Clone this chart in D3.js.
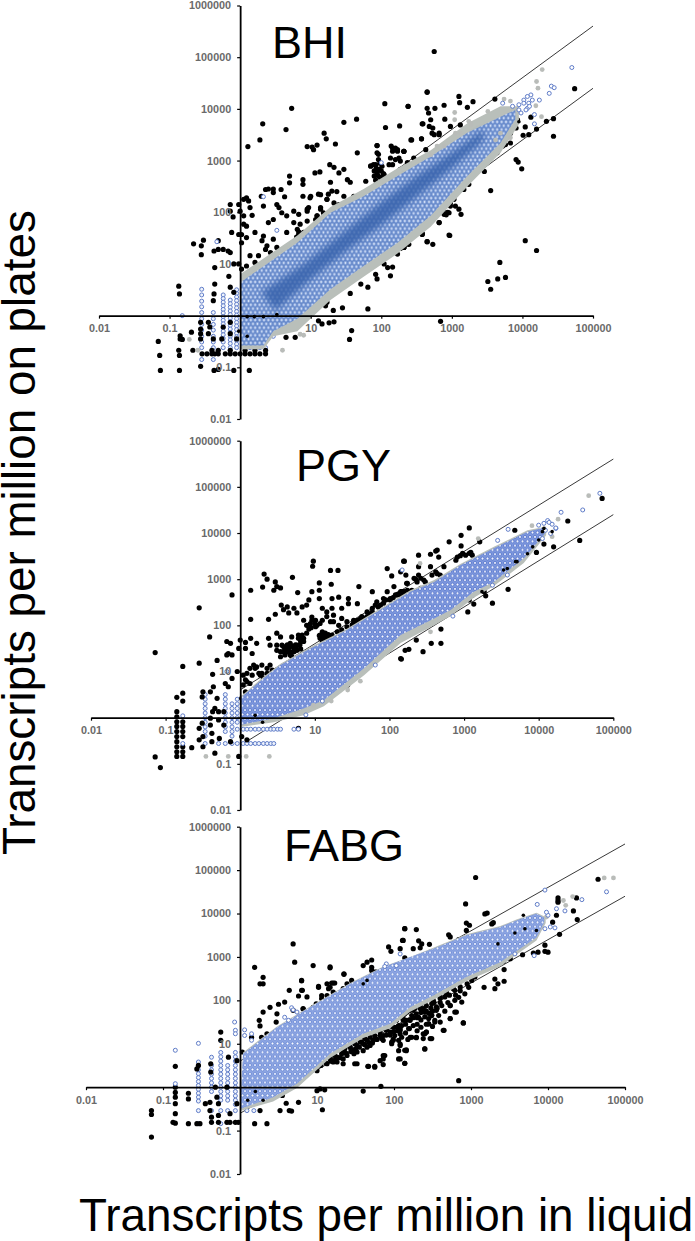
<!DOCTYPE html>
<html>
<head>
<meta charset="utf-8">
<script src="https://cdn.jsdelivr.net/npm/d3@7"></script>
<style>
html, body { margin: 0; padding: 0; background: #fff; }
svg { display: block; }
.tick-label { font-family: "Liberation Sans", Arial, sans-serif; font-size: 10.8px; font-weight: bold; fill: #6a6a6a; }
.big { font-family: "Liberation Sans", Arial, sans-serif; fill: #000; }
</style>
</head>
<body>
<svg id="graph" width="695" height="1241"></svg>
<script>
var xTicks = [0.01, 0.1, 1, 10, 100, 1000, 10000, 100000];
var yTicks = [0.01, 0.1, 1, 10, 100, 1000, 10000, 100000, 1000000];
var hiddenTick = 1;
var foldLines = [[[1, 4], [100000, 400000]], [[1, 0.25], [100000, 25000]]];

// edges of the dense clouds. too many circles to read one by one, so these are outlines
var bhiGreyTop = [[0,.8],[.81,1.55],[1.28,2.1],[1.75,2.45],[2.23,2.85],[2.7,3.2],[3.22,3.72],[3.69,4.05],[3.95,4.05]];
var bhiGreyBottom = [[0,-.65],[.33,-.65],[.47,-.4],[.81,-.3],[1.28,.3],[1.75,.75],[2.23,1.2],[2.7,1.72],[3.22,2.5],[3.69,3.15],[3.95,3.7]];
var bhiBandTop = [[0,.64],[.81,1.41],[1.28,1.99],[1.75,2.31],[2.23,2.7],[2.7,3.08],[3.22,3.54],[3.69,3.85],[3.9,3.98]];
var bhiBandBottom = [[0,-.58],[.33,-.58],[.47,-.3],[.81,-.06],[1.28,.51],[1.75,.96],[2.23,1.41],[2.7,1.93],[3.22,2.7],[3.69,3.34],[3.9,3.8]];
var bhiCoreTop = [[.3,.45],[.9,1],[1.5,1.65],[2,2.2],[2.5,2.7],[3,3.15],[3.45,3.6]];
var bhiCoreBottom = [[.5,.1],[1,.7],[1.5,1.25],[2,1.75],[2.5,2.3],[3,2.85],[3.45,3.4]];

var pgyGreyTop = [[0,.45],[.31,.88],[.54,1.17],[.94,1.53],[1.39,1.89],[1.83,2.32],[2.28,2.76],[2.6,2.98],[2.95,3.33],[3.4,3.7],[3.85,4.06],[4.1,4.14]];
var pgyGreyBottom = [[0,-.2],[.45,-.1],[.85,.05],[1.12,.25],[1.66,.92],[2.15,1.62],[2.6,2],[2.82,2.2],[3.13,2.6],[3.4,2.85],[3.8,3.35],[4.1,3.95]];
var pgyBandTop = [[0,.42],[.31,.85],[.54,1.14],[.94,1.5],[1.39,1.86],[1.83,2.29],[2.28,2.73],[2.6,2.94],[2.95,3.3],[3.4,3.67],[3.85,4.03],[4.08,4.12]];
var pgyBandBottom = [[0,-.16],[.45,-.01],[.85,.2],[1.12,.38],[1.66,1.07],[2.15,1.79],[2.6,2.15],[2.82,2.33],[3.13,2.73],[3.4,2.94],[3.8,3.45],[4.08,3.98]];

var fabgGreyTop = [[.04,.8],[.48,1.4],[.91,1.86],[1.43,2.4],[1.86,2.78],[2.21,3],[2.51,3.21],[2.94,3.52],[3.38,3.71],[3.59,3.86],[3.85,4.02],[3.97,3.92]];
var fabgGreyBottom = [[0,-.55],[.43,-.33],[.74,-.02],[1.17,.67],[1.6,1.13],[1.95,1.36],[2.21,1.74],[2.51,2.01],[2.94,2.44],[3.38,2.78],[3.57,3.03],[3.85,3.38],[3.97,3.78]];
var fabgBandTop = [[.04,.77],[.48,1.38],[.91,1.84],[1.43,2.38],[1.86,2.76],[2.21,3],[2.51,3.19],[2.94,3.5],[3.38,3.69],[3.59,3.84],[3.85,4],[3.95,3.9]];
var fabgBandBottom = [[0,-.5],[.43,-.23],[.74,.08],[1.17,.77],[1.6,1.23],[1.95,1.46],[2.21,1.84],[2.51,2.11],[2.94,2.54],[3.38,2.88],[3.57,3.11],[3.85,3.45],[3.95,3.8]];

var bhiBlack = [[.73,4.01],[.32,3.71],[.65,3.6],[.28,3.4],[.11,3.27],[1.19,3.53],[1.22,3.42],[1.35,3.32],[1.47,3.74],[1.65,3.8],[2.05,4.1],[2.06,3.64],[2.38,4.05],[2.26,3.67],[2.65,4.33],[2.65,4.01],[2.59,3.71],[2.57,3.42],[2.43,3.4],
[.95,3.27],[1.02,3.26],[1.04,3.21],[1.09,3.3],[1.66,3.15],[1.94,3.29],[1.94,3.15],[2.14,3.28],[2.2,3.24],[2.23,3.18],[2.16,3.18],[2.32,3.18],[1.27,2.92],[1.33,2.87],[1.06,2.76],[1.13,2.78],[1.4,2.76],[1.47,2.83],[.7,2.7],[.7,2.57],[.89,2.63],[.89,2.54],[1.28,2.58],[1.52,2.63],[1.56,2.58],[1.78,2.6],[1.85,2.9],[1.92,2.92],[1.97,2.83],[1.94,2.73],[1.99,2.67],[1.9,2.7],[2.04,2.73],
[.36,2.44],[.4,2.45],[.47,2.45],[.47,2.38],[.58,2.44],[.3,2.31],[.63,2.3],[.89,2.31],[1,2.31],[1.14,2.34],[1.3,2.41],[1.37,2.4],[1.47,2.31],[1.23,2.25],[1.33,2.18],[1.4,2.15],[1.61,2.31],[1.66,2.25],[1.75,2.38],[.09,2.28],[.05,2.25],[.12,2.22],[-.02,2.15],[-.14,2.15],[-.14,2.02],[0,2.02],[.14,2.09],[-.1,1.91],[.05,1.93],[.17,1.94],[.33,2.12],[.52,2.15],[.55,2.09],[.59,1.99],[.66,1.93],[.76,2.02],[.83,1.96],[.95,2.06],[1.14,2.09],[1.09,1.93],[1.18,1.99],[1.33,1.96],[1.37,1.93],[1.42,1.89],[1.35,1.86],[1.4,1.83],[1.45,1.96],
[.05,1.77],[.09,1.73],[.47,1.86],[.4,1.8],[.76,1.8],[.81,1.67],[.95,1.83],[1.09,1.73],[1.14,1.67],[.66,1.61],[.83,1.57],[.88,1.51],[.81,1.45],[.9,1.41],[.85,1.35],[.76,1.32],[-.12,1.61],[-.02,1.57],[.02,1.57],[.09,1.51],[.02,1.41],[.21,1.61],[.33,1.54],[.31,1.45],[.38,1.35],[.47,1.48],[.52,1.32],[.36,1.28],[.43,1.22],[.47,1.16],[.4,1.09],
[-.66,1.39],[-.55,1.35],[-.52,1.46],[-.55,1.18],[-.31,1.45],[-.37,1.25],[-.31,1.28],[-.24,1.28],[-.17,1.25],[-.36,.93],[-.14,1.22],[-.09,1],[-.02,1],[.02,.9],[.09,.96],[.26,1.16],[.21,1.03],[.14,1.16],[-.16,.76],[-.14,.55],[-.36,.61],[-.87,.57],[-.86,.42],[-.37,.42],[-.38,.29],[-.09,.45],
[1.23,.26],[1.21,.19],[1.32,.1],[1.45,.15],[1.81,.13],[1.11,-.1],[1.16,-.16],[1.26,-.14],[1.33,-.12],[.76,.03],[.66,-.26],[.76,-.13],[.86,-.1],[.78,-.42],[.65,-.42],[1.58,-.29],[1.55,-.46],[1.42,.55],[1.47,.58],[1.71,.61],[1.81,.55],[1.56,.43],[1.92,.8],[1.94,.71],[2.13,.77],[1.87,1.16],[1.97,1.12],[1.9,1.06],[2.04,1],[2.09,.93],[2.16,.94],[2.23,1.19],[2.09,1.16],[2.18,1.54],[2.23,1.48],[2.37,1.51],[2.32,1.32],[2.39,1.38],[2.58,1.57],[2.65,1.43],[2.46,1.83],[2.54,1.8],[2.61,1.89],[2.49,1.73],[2.68,1.93],[2.63,1.77],
[-.54,-.74],[-.47,-.74],[-.4,-.74],[-.36,-.74],[-.31,-.74],[-.21,-.74],[-.14,-.74],[-.07,-.74],[0,-.74],[.07,-.74],[.14,-.74],[.21,-.74],[.28,-.74],[.36,-.74],[-.4,-.67],[-.31,-.67],[-.14,-.67],[.07,-.67],[.21,-.67],[.36,-.67],[-.87,-.67],[-.86,-.77],[-1.14,-.77],[-1.16,-.5],[-1.13,-1.06],[-.86,-1.06],[-.56,-.98],[-.37,-1.06],[-.31,-1.04],[-.09,-1.06],[.13,-1.06],[-.67,-.67],[-.69,-.32],[-.85,-.39],[-.85,-.45],[-.82,-.46],[-.56,-.13],[-.56,-.26],[-.56,-.35],[-.56,-.45],[-.45,-.13],[-.43,-.22],[-.45,-.35],[-.38,-.45],[-.26,-.45],[-.14,-.35],[-.14,-.13],[-.24,-.22],[-.05,-.45],[.05,-.48],[.14,-.51],[.24,-.45],
[2.75,5.11],[2.65,4.32],[3.1,4.24],[3.11,4.12],[3.3,4.14],[2.38,4.05],[2.67,3.92],[2.76,4.01],[2.89,4.07],[3.22,4.03],[2.7,3.79],[2.9,3.8],[2.58,3.71],[2.68,3.66],[2.73,3.63],[2.82,3.53],[2.75,3.5],[2.98,3.66],[3.12,3.69],[2.42,3.4],[2.57,3.42],[2.32,3.18],[3.61,4.19],[4.34,3.76],[4.44,3.81],[4.74,4.39],[4.44,3.47],[4.2,3.61],[4.09,3.5],[4.01,3.49],[4.04,3.65],[4.12,3.84],[3.93,3.79],[3.91,3.63],[3.83,3.53],[3.69,3.4],[3.76,3.31],[3.72,3.28],[3.83,3.34],[3.64,3.15],[3.57,3.11],[3.53,3.11],[3.48,3.02],[3.46,2.92],[3.5,3.08],[3.46,2.79],[3.41,2.89],[3.91,3.02],[3.94,2.97],[3.99,2.84],[3.55,2.42],
[3.24,2.54],[3.17,2.44],[3.07,2.41],[2.96,2.31],[2.98,2.18],[3.05,2.12],[3.1,2.06],[3.13,1.96],[2.96,1.99],[2.86,2.12],[2.82,1.8],[2.89,1.96],[2.97,1.55],[2.69,1.93],[2.63,1.83],[2.51,1.86],[2.46,1.77],[2.58,1.58],[2.65,1.43],[2.73,1.38],[2.38,1.39],[2.32,1.32],[2.27,1.3],[4.04,1.45],[4.2,1.26],[3.68,1.03],[3.51,.66],[3.65,.71],[3.76,.74],[3.55,.51],[2.84,-.11],
// clumps along the upper and lower edge of the cloud
[1.33,1.93],[1.37,1.87],[1.42,2],[1.35,1.8],[1.44,1.87],[1.3,2.03],[1.4,2.09],[1.09,1.93],[1.14,2.06],[1.23,2.25],[1.25,2.35],[1.11,2.35],[.99,2.28],[.97,2.09],[.95,2.02],[1.56,2.06],[1.63,2.15],[1.52,2.15],[1.75,2.35],[1.82,2.41],[1.87,2.47],[1.94,2.76],[1.99,2.67],[1.97,2.57],[2.01,2.89],[1.89,2.92],[1.85,2.89],[1.96,3.02],[1.96,3.12],[1.94,3.29],[2.13,3.05],[2.2,3.02],[2.25,3.05],[2.27,2.99],[2.16,3.24],[2.23,3.21],[2.32,3.18],[2.11,2.92],[2.16,2.92],[2.27,2.83],[2.37,2.96],[2.46,3.05],[2.63,3.21],[2.72,3.53],[2.82,3.5],[.85,1.77],[.9,1.61],[.99,1.58],[1.09,1.74],[1.14,1.67],[.92,1.41],[1.07,1.86],[2.49,1.9],[2.53,1.8],[2.46,1.74],[2.63,1.74],[2.7,1.93],[2.84,2.03],[2.94,2],[2.98,2.12],[2.94,2.28],[3.03,2.25],[2.82,1.8],[2.96,1.56],[2.58,1.59],[2.27,1.41],[2.34,1.38],[2.39,1.51],[2.32,1.32],
[1.32,1.98],[1.38,1.95],[1.33,1.85],[1.39,1.8],[1.43,1.94],[1.36,2.05],[1.9,2.8],[1.93,2.85],[1.96,2.7],[1.92,2.62],[2,2.8],[2.03,2.75],[1.98,2.95],[2.5,1.82],[2.55,1.86],[2.45,1.85],[2.52,1.72],[2.58,1.8],[2.78,1.98],[2.88,2.05],[2.92,1.95],[2.9,2.15],[.83,1.62],[.86,1.48],[.92,1.55],[.88,1.38],[.8,1.52],[.93,1.47],[.85,1.42],[.78,1.38]];
var bhiGrey = [[4.28,4.76],[4.2,4.53],[4.22,4.4],[4.27,3.85],[4.19,4.06],[3.74,4.19],[3.83,4.15],[3.51,3.95],[3.04,3.93],[3.04,3.79],[3.24,3.76],[3.27,3.69],[-.72,-.46],[-.6,-.67],[.6,-.67],[.85,-.36],[.9,-.38],[3.69,3.53],[3.83,3.44],[3.62,3.4],[3.27,3.72],[3.05,3.53],[2.89,3.28],[2.79,3.28],[2.7,3.11],[3.12,3.53]];
var bhiOpen = [[4.7,4.8],[4.41,4.44],[4.45,4.41],[4.38,4.3],[4.24,4.17],[4.12,4.27],[3.72,4.11],[4.17,3.89],[4.17,3.71],[4.02,4.17],[4.09,4.11],[3.95,4.08],[3.86,4.05],[4.07,4.01],[2,2.96],[.33,2.3],[-.33,1.43],[.52,1.65],[3.95,3.98],[4.02,4.11],[3.98,3.92],[4.05,3.98],[4.1,4.05],[4.07,4.24],[4.14,4.17]];
var bhiOver = [[3.95,3.75],[.1,-.02],[.2,-.02],[.33,-.02],[.52,.02],[-.02,-.3],[.1,-.4]];
var bhiColumns = [[-.82,[0,-.46]],[-.545,[.51,.4,.28,.17,.06,-.06,-.17,-.28,-.4,-.51,-.62,-.85]],[-.38,[.06,-.06,-.17,-.28,-.4,-.51,-.62,-.85]],[-.24,[.4,.33,.26,.19,.12,.05,-.02,-.09,-.16,-.23,-.3,-.37,-.44,-.51,-.62]],[-.14,[.3,.23,.16,.09,.02,-.05,-.12,-.19,-.26,-.33,-.4,-.47,-.54,-.62]],[-.05,[.5,.43,.36,.29,.22,.15,.08,.01,-.06,-.13,-.2,-.27,-.34,-.41,-.48,-.55,-.62]],[.07,[-.62]],[.14,[-.62]],[.28,[-.62]],[.36,[-.62,-.28]],[.47,[-.4,-.28]]];

var pgyBlack = [[-1.14,1.41],[-1.07,-1.08],[-1.14,-.85],[-.55,2.38],[-.11,2.66],[-.41,1.75],[-.77,1.11],[-.55,1.18],[-.31,1.24],[-.37,.94],[-.85,.44],[-.77,.53],[-.77,.36],[-.5,.56],[-.51,.45],[-.36,.67],[-.4,.56],[-.31,.42],[-.2,.74],[-.16,.67],[-.11,.85],[-.16,1.39],[-.13,1.61],[-.18,1.65],[-.18,1.36],[-.11,1.36],[0,1.68],[-.02,1.5],[.07,1.63],[.14,1.72],[.22,1.61],[.07,1.5],[.16,1.39],
[.14,2.13],[.38,2.13],[.14,2.76],[.3,2.83],[.32,3.11],[.36,3],[.47,2.94],[.49,2.84],[.45,2.76],[.54,2.81],[.7,3.04],[.98,3.39],[.97,3.28],[1.21,3.19],[1.31,3.19],[1.06,2.92],[1.22,2.89],[.96,2.73],[1.06,2.76],[.77,2.71],[1.59,2.84],[1.97,3.23],[2.03,3.07],[2.2,3.39],[2.23,2.91],[2.06,2.84],[1.97,2.73],[1.77,2.73],
[.55,2.44],[.58,2.34],[.65,2.27],[.63,2.4],[.72,2.37],[.76,2.27],[.47,2.24],[.83,2.4],[.92,2.55],[.89,2.44],[1.06,2.58],[1.23,2.58],[1.32,2.61],[1.45,2.58],[1.36,2.37],[1.23,2.37],[1.45,2.47],[1.57,2.47],[1.1,2.37],[1.16,2.29],[1.25,2.22],[1.36,2.15],[.85,2.11],[.96,2.18],[1.01,2.11],[.94,2.04],[1.03,2],[1.1,2.11],[1.21,2.08],[1.32,2],[1.43,2.08],[1.52,2.11],[1.61,2.14],[1.7,2.29],[1.77,2.37],[1.83,2.51],[1.92,2.58],[2.01,2.55],[2.1,2.66],[2.19,2.73],
[.49,1.83],[.54,1.75],[.38,1.72],[.4,1.57],[.49,1.57],[.56,1.57],[.69,1.75],[.83,1.79],[.78,1.72],[.67,1.61],[.76,1.57],[.85,1.65],[.63,1.49],[.72,1.43],[.81,1.49],[.58,1.43],[.67,1.36],[.54,1.32],[1.07,1.79],[1.14,1.83],[1.21,1.72],[1.1,1.65],[1.16,1.61],[1.25,1.69],[.18,1.14],[.13,1.07],[.22,1.1],[.09,.96],[-.04,1],[.29,.96],[.36,.96],[.43,1.03],[.31,.85],[.07,.82],[.13,.74],[.04,.71],[.02,.42],[.13,.42],[.19,.56],[.27,.92],
[-.85,.13],[-.85,.02],[-.85,-.09],[-.85,-.19],[-.85,-.3],[-.85,-.41],[-.85,-.52],[-.85,-.63],[-.85,-.74],[-.85,-.84],[-.77,-.09],[-.77,-.19],[-.77,-.3],[-.77,-.41],[-.77,-.63],[-.77,-.74],[-.77,-.84],[-.65,-.65],[-.55,-.23],[-.51,-.12],[-.55,-.48],[-.5,-.63],[-.5,-.41],[-.4,-.01],[-.4,-.16],[-.37,.13],[-.34,.2],[-.38,-.34],[-.29,.13],[-.29,-.05],[-.22,.13],[-.22,-.16],[-.28,-.45],[-.38,-.52],[-.34,-.77],[-.13,-.52],[-.02,-.84],[.02,-.41],[.09,-.48],[1.44,.71],[2.15,1.28],[.78,-.23],
[3.07,4.11],[2.96,3.95],[2.8,3.81],[2.96,3.72],[3.21,3.81],[3.68,4.06],[2.62,3.61],[2.55,3.54],[2.64,3.63],[2.91,3.48],[2.98,3.56],[3.09,3.58],[3.11,3.52],[2.39,3.52],[2.66,3.48],[2.19,3.39],[2.39,3.27],[2.55,3.27],[2.73,3.27],[2.62,3.16],[2.89,3.41],[2.95,3.51],[2.15,3.16],[2.22,3.09],[2.39,3.09],[2.48,2.94],[2.35,3],[2.57,3.09],[2.71,3],[2.24,2.91],[2.42,2.8],[2.3,2.76],[2.19,2.73],[2.15,2.65],
[4.39,4.26],[4.85,4.75],[4.55,3.84],[4.2,3.7],[4.07,3.76],[3.97,3.58],[3.38,2.48],[3.59,2.78],[3.05,2.29],[3.13,2.46],[3.29,2.64],[2.69,1.92],[2.69,1.61],[2.56,1.61],[2.45,1.43],[2.36,1.68],[2.26,1.48],[2.21,1.46],[2.16,1.27],
// clumps along the upper edge of the cloud
[1.3,1.86],[1.36,1.9],[1.43,1.97],[1.5,2.01],[1.57,2.11],[1.63,2.19],[1.7,2.19],[1.77,2.29],[1.81,2.44],[1.88,2.44],[1.95,2.55],[2.01,2.58],[2.08,2.66],[2.15,2.73],[2.24,2.76],[1.41,1.83],[1.48,1.9],[1.61,2.08],[.58,1.54],[.65,1.43],[.72,1.5],[.76,1.46],[.81,1.65],[.85,1.72],[.89,1.83],[.6,1.36],[.69,1.33],[.54,1.43],[.49,1.46],[.78,1.79],[.63,1.58],[.74,1.58],[1.07,1.72],[1.12,1.72],[1.16,1.75],[1.19,1.65],[1.23,1.79],[1.1,1.86],[1.14,1.68],[.89,2],[.96,2.11],[1.01,1.97],[1.07,2.04],[1.16,2.19],[1.25,2.08],[.04,.92],[.09,.78],[.16,.92],[.2,1.07],[.25,.96],[.36,1.07],[.29,1.14],[.4,1.14],[.18,.6],[.07,.56],[.27,.74],[2.42,3.02],[2.46,2.98],[2.37,2.94],[2.33,3.02],[2.64,3.12],[2.68,3.09],[3.02,3.52],[3.07,3.56],[3.4,3.2],[3.11,2.65],[3.07,2.55],[3.27,2.73],[2.17,2.73],[2.19,2.65],
[.6,1.48],[.66,1.52],[.7,1.42],[.75,1.52],[.62,1.42],[.68,1.56],[.8,1.58],[.83,1.72],[1.12,1.78],[1.18,1.8],[1.15,1.72],[1.2,1.78],[1.06,1.78],[1.52,2.05],[1.56,2.05],[1.66,2.15],[1.74,2.25],[1.85,2.4],[1.92,2.48],[2.05,2.6],[2.12,2.68],[.95,1.95],[1,2.03],[.92,1.92]];
var pgyGrey = [[-.46,-.84],[-.16,-.84],[.08,-.84],[.39,-.84],[1.22,.36],[1.61,.79],[1.44,.6],[.98,.27],[4.67,4.81],[4.26,4.3],[3.91,4.16],[3.19,3.88],[4.18,3.92],[2.41,3.34],[2.55,1.86]];
var pgyOpen = [[-.77,.04],[-.77,-.56],[1.81,1.14],[2.17,3.2],[-.18,1],[1.1,.36],[.88,.06],[4.82,4.86],[4.59,4.5],[4.3,4.45],[4.12,4.27],[4.23,4.1],[3.59,4.08],[3.45,3.84],[3.58,3.09],[3.38,2.87],[2.85,2.2],[.72,-.25],[.78,-.25],[4,4.17],[4.07,4.21],[4.14,4.23],[4.18,4.19],[4.23,4.11],[4.09,4.06],[4.16,3.99],[4.05,3.88]];
var pgyOver = [[3.58,3.23],[3.53,3.2],[4.05,4.03],[4.07,4.1],[3.92,3.7],[3.69,3.38],[3.85,3.55],[4,3.85],[3.71,3.38],[3.24,2.73],[4.18,4.03],[.2,.05],[.3,-.1]];
var pgyColumns = [[-.47,[.5,.4,.3,.2,.1,0,-.1,-.2,-.3,-.4,-.56]],[-.29,[-.56]],[-.2,[.5,.4,.3,.2,.1,0,-.1,-.2,-.3,-.56]],[-.11,[.3,.2,.1,0,-.1,-.2,-.3,-.4,-.56]],[-.04,[.4,.3,.2,.1,0,-.1,-.25,-.56]],[.04,[-.25,-.56]],[.09,[-.25,-.56]],[.14,[-.25,-.56]],[.2,[-.25,-.56]],[.25,[-.25,-.56]],[.31,[-.25,-.56]],[.36,[-.25,-.56]],[.41,[-.25,-.56]],[.45,[-.25,-.56]],[.5,[-.25]],[.54,[-.25]]];

var fabgBlack = [[.69,3.3],[.71,2.88],[.19,2.76],[.95,2.8],[1.17,2.75],[.3,2.53],[.26,2.38],[.3,2.38],[.8,2.45],[.64,2.23],[.81,2.23],[.76,2.1],[1.02,2.3],[1.13,2.38],[1.21,2.4],[1.17,2.3],[1.35,2.6],[1.6,2.8],[1.65,2.88],[1.71,2.93],[1.71,2.76],[1.77,2.65],[1.45,2.46],[1.39,2.38],[1.34,2.27],[2.14,3.65],[2.12,3.38],[1.93,3.23],[1.96,3.13],[2.14,2.98],[2.19,2.83],
[1.21,2.19],[1.28,2.15],[1.13,2.11],[1.06,2.04],[.99,1.92],[.95,1.8],[.82,1.8],[.8,1.61],[.69,1.77],[.58,1.96],[.5,1.91],[.39,1.84],[.48,1.69],[.3,1.73],[.25,1.54],[.47,1.5],[.26,1.41],[.28,1.15],[.35,1.23],[.22,.92],[.15,1.15],[-.25,1.27],[-.25,1.08],[-.15,.69],[-.04,.61],[.03,.81],
[-.84,.48],[-.38,.54],[-.38,.35],[-.54,.5],[-.56,.42],[-.84,0],[-.84,-.12],[-.84,-.23],[-.84,-.38],[-.84,-.61],[-.84,-.83],[-.87,-.81],[-.67,-.14],[-.67,-.27],[-.67,-.84],[-.56,-.84],[-.52,-.84],[-1.15,-.54],[-1.15,-.63],[-1.15,-1.15],[-.45,-.38],[-.39,-.35],[-.39,-.54],[-.37,-.69],[-.37,-.81],[-.28,-.81],[-.28,-.65],[-.28,-.38],[-.32,0],[-.3,-.23],[-.17,0],[-.17,-.81],[-.13,-.81],[-.13,-.61],[-.06,-.81],[-.02,-.81],[-.04,-.38],[.04,-.15],[.09,-.38],[.13,-.27],[.22,-.23],[.19,-.84],[.35,-.84],[.26,-.54],
[.52,-.54],[.64,-.54],[.67,-.55],[.76,-.35],[.6,-.37],[.55,-.19],[1,-.08],[1.1,-.06],[1.04,-.04],[1.07,-.52],[1.6,-.09],[1.83,.02],
[.69,.08],[.78,.19],[.82,.23],[.9,.42],[.97,.5],[1.08,.61],[1.17,.69],[1.26,.69],[1.34,.84],[1.43,.92],[1.52,.96],[1.58,1.04],[1.65,1.08],[1.69,.96],[1.48,.77],[1.39,.73],[1.52,.81],[1.6,.84],[1.65,.92],[1.75,1.11],[1.82,1.19],[1.9,1.31],[1.97,1.46],[2.03,1.54],[2.12,1.65],[2.19,1.77],[2.03,1.38],[1.99,1.27],[2.08,1.23],[2.16,1.54],[1.86,.73],[1.82,.61],[1.75,.46],[1.66,.48],[1.49,.54],[1.26,.58],[1.13,.54],[1.21,.61],[1,.38],[1.99,1.11],[2.06,1.08],[2.16,.84],[2.06,.84],[1.97,1.04],[1.86,1.08],
[3.06,4.83],[2.93,4.22],[3.18,3.99],[3.21,4.01],[3.27,3.76],[3.29,3.79],[2.94,3.78],[2.98,3.73],[2.94,3.61],[2.14,3.65],[2.29,3.63],[2.71,3.51],[2.73,3.46],[2.84,3.4],[2.11,3.38],[2.32,3.37],[2.36,3.3],[2.34,3.21],[2.08,3.19],[2.46,3.29],[2.47,3.11],[2.51,3.09],[2.25,3.19],
[4.65,4.79],[4.13,4.3],[4.13,4.36],[4.13,4.26],[4.37,4.36],[4.33,4.06],[4.38,3.86],[4.11,3.96],[4.15,3.52],[4.06,3.8],[3.96,3.27],[3.96,3.13],[4,3.11],[3.87,3.11],[3.81,3.09],[3.67,3.05],[3.57,3.11],[3.51,2.96],[3.42,2.9],[3.43,2.71],[3.43,2.44],[3.31,2.49],[3.35,2.38],[3.31,2.27],[3.17,2.3],
[3.29,2.8],[3.35,2.84],[3.2,2.73],[3.12,2.69],[3.05,2.54],[3.01,2.46],[2.97,2.3],[2.92,2.15],[2.88,1.96],[2.79,1.73],[2.73,1.58],[2.9,1.48],[2.65,1.31],[2.73,1.88],[2.84,2.07],
[2.08,1.77],[2.17,1.73],[2.25,1.77],[2.34,1.81],[2.42,1.88],[2.51,2],[2.6,2.08],[2.68,2.19],[2.77,2.27],[2.55,1.77],[2.49,1.65],[2.4,1.73],[2.32,1.61],[2.21,1.54],[2.12,1.58],[2.19,1.35],[2.08,1.35],[2.53,1.54],[2.45,1.46],[2.4,1.23],[2.42,1.27],[2.38,1.12],[2.47,1.12],[2.21,1.15],[2.29,1.14],[2.4,.88],[2.08,.99],[2.14,.85],[2.08,.65],[2.14,.55],[2.84,.15],
// the dense strip under the cloud
[1,.54],[1.08,.62],[1.17,.65],[1.23,.73],[1.32,.77],[1.36,.88],[1.43,.92],[1.49,1],[1.56,1.04],[1.62,1.12],[1.69,1.15],[1.75,1.19],[1.82,1.27],[1.88,1.35],[1.93,1.42],[1.97,1.5],[2.03,1.54],[1.99,1.38],[2.06,1.42],[2.08,1.61],[2.14,1.69],[2.21,1.77],[2.27,1.81],[2.34,1.88],[2.4,1.96],[2.47,2.04],[2.53,2.11],[2.58,2.19],[2.64,2.27],[2.71,2.31],[2.77,2.38],[2.84,2.46],[2.9,2.54],[1.21,.58],[1.34,.65],[1.47,.85],[1.6,1],[1.73,1.08],[1.86,1.19],[1.95,1.27],[2.08,1.31],[2.01,1.19],[2.12,1.54],[2.23,1.65],[2.29,1.69],[2.38,1.81],[2.49,1.92],[2.6,2.04],[2.68,2.15],[2.79,2.23],[2.86,2.31],[2.55,1.85],[2.49,1.65],[2.45,1.58],[2.53,1.5],[2.73,1.88],[2.79,2],[2.9,1.48],[2.64,1.31],[2.73,1.58],[2.81,1.73],[2.45,1.46],[2.23,1.15],[2.29,1.15],[2.42,1.27],[2.38,1.23],[2.49,1.12],[2.4,.88],[2.16,.86],[1.97,1],[1.99,1.08],[2.08,.96],[2.06,.65],[2.14,.55],[1.88,.73],[1.86,.65],[1.67,.48],[1.75,.48],[1.86,.52],[1.52,.54],[1.34,.54],
[1.05,.5],[1.12,.55],[1.18,.6],[1.25,.66],[1.3,.68],[1.38,.78],[1.44,.82],[1.5,.88],[1.55,.92],[1.62,.98],[1.68,1.02],[1.72,1.02],[1.78,1.1],[1.84,1.12],[1.9,1.2],[1.95,1.2],[2,1.28],[2.05,1.3],[2.1,1.42],[2.15,1.45],[2.2,1.55],[2.25,1.6],[2.3,1.6],[2.35,1.72],[2.42,1.75],[2.48,1.82],[2.52,1.95],[2.6,1.95],[2.66,2.08],[2.72,2.12],[2.8,2.12],[2.86,2.22],[2.95,2.38],[2.1,1.15],[2.15,1.25],[2.2,1.35],[2.25,1.42],[2.3,1.45],[2.35,1.55],[2.4,1.62],[2.45,1.7],[2.5,1.75],[2.56,1.82],[2.62,1.88],[2.35,1.38],[2.3,1.3],[2.42,1.45],[2.5,1.4],[2.58,1.65],[2.66,1.75],[2.6,1.5],[2.7,1.95],[2.18,1.1],
[1.17,2.77],[1.35,2.61],[.8,2.46],[1.02,2.32],[1.19,2.4],[1.23,2.4],[1.15,2.27],[1.25,2.15],[1.32,2.19],[1.06,2.11],[.95,1.84],[.82,1.81],[.87,2.08],[.8,2.23],[1.62,2.42],[1.71,2.69],[1.75,2.65],[2.23,2.84],[2.73,2.77]];
var fabgGrey = [[4.73,4.82],[4.85,4.82],[4.32,4.39],[4.2,4.3],[4.23,4.19],[3.98,3.92]];
var fabgOpen = [[3.96,4.54],[4.76,4.5],[4.44,4.32],[3.86,4.21],[4,3.96],[4.11,4.11],[4.22,4.06],[3.82,3.03],[4.09,3.67],[-.84,.85],[-.84,.08],[-.07,1.5],[-.06,1.31],[-.06,1.23],[.06,1.32],[.06,1.19],[.15,1.23],[.15,1.08],[.67,1.83],[.69,1.78],[.74,1.73],[.58,1.61],[.63,1.54],[1.9,2.84],[1.88,2.78],[2.03,2.8],[2.08,3.07],[-.54,1.01],[3.96,3.65],[4.03,3.69],[3.57,3.07],[3.98,4.03]];
var fabgOver = [[1.6,2.38],[1.65,2.46],[3.57,3.55],[3.7,3.65],[3.85,3.61],[3.35,3.3],[.1,-.3],[.2,-.1],[.3,-.3],[3.68,3.96]];
var fabgColumns = [[-.54,[.58,.49,.4,.31,.22,.13,.04,-.05,-.14,-.23,-.32,-.54,-.84]],[-.37,[.69,.5,.4,.3,.2,.1,0,-.1,-.54]],[-.25,[.8,.7,.6,.5,.4,.3,.2,.1,0,-.1,-.2,-.3,-.54,-.84]],[-.16,[.5,.4,.3,.2,.1,0,-.1,-.2,-.3,-.54]],[-.06,[.8,.7,.6,.5,.4,.3,.2,.1,0,-.1,-.2,-.3,-.4,-.54]],[.09,[-.54]],[.18,[-.54]]];

// one entry per panel. the numbers here are the layout read from the picture's axes, not data
var panels = [
  {name:"BHI", titleX:272, titleY:58, xRange:[99,593], yRange:[419,5.5], black:bhiBlack, grey:bhiGrey, open:bhiOpen, over:bhiOver, columns:bhiColumns, greyTop:bhiGreyTop, greyBottom:bhiGreyBottom, bandTop:bhiBandTop, bandBottom:bhiBandBottom, coreTop:bhiCoreTop, coreBottom:bhiCoreBottom},
  {name:"PGY", titleX:296, titleY:481, xRange:[91,613.3], yRange:[810,440.7], black:pgyBlack, grey:pgyGrey, open:pgyOpen, over:pgyOver, columns:pgyColumns, greyTop:pgyGreyTop, greyBottom:pgyGreyBottom, bandTop:pgyBandTop, bandBottom:pgyBandBottom},
  {name:"FABG", titleX:284, titleY:861, xRange:[86,625], yRange:[1174,826.7], black:fabgBlack, grey:fabgGrey, open:fabgOpen, over:fabgOver, columns:fabgColumns, greyTop:fabgGreyTop, greyBottom:fabgGreyBottom, bandTop:fabgBandTop, bandBottom:fabgBandBottom}
];

var svg = d3.select("#graph");
var defs = svg.append("defs");

defs.append("filter").attr("id", "soft").attr("x", "-20%").attr("y", "-20%").attr("width", "140%").attr("height", "140%")
  .append("feGaussianBlur").attr("stdDeviation", 3);

// texture only: a tile of open circles that stands in for the overlapping markers
function makePattern(id, cell, back, ring, centre){
  var h = cell * 1.732;
  var p = defs.append("pattern").attr("id", id).attr("patternUnits","userSpaceOnUse")
    .attr("width", cell).attr("height", h);
  p.append("rect").attr("width", cell).attr("height", h).attr("fill", back);
  [[0,0],[cell,0],[0,h],[cell,h],[cell/2,h/2]].forEach(function(c){
    p.append("circle").attr("cx", c[0]).attr("cy", c[1]).attr("r", cell * 0.3)
      .attr("fill", centre).attr("stroke", ring).attr("stroke-width", cell * 0.18);
  });
}
makePattern("lattice-BHI", 4.4, "#6588c8", "#7e9fdc", "#e6eefa");
makePattern("lattice-PGY", 5, "#7e98dd", "#5272cc", "#fbfcff");
makePattern("lattice-FABG", 5, "#8ea6e2", "#6584d4", "#fbfcff");

function unlog(d){ return [Math.pow(10, d[0]), Math.pow(10, d[1])]; }

function bandPath(top, bottom, x, y){
  var line = d3.line().x(function(d){ return x(d[0]); }).y(function(d){ return y(d[1]); });
  return line(top.concat(bottom.slice().reverse()).map(unlog)) + "Z";
}

function dots(g, data, x, y, r, fill, stroke){
  g.append("g").selectAll("circle").data(data.map(unlog)).enter().append("circle")
    .attr("cx", function(d){ return x(d[0]); })
    .attr("cy", function(d){ return y(d[1]); })
    .attr("r", r).attr("fill", fill)
    .attr("stroke", stroke || "none").attr("stroke-width", stroke ? 1 : 0);
}

panels.forEach(function(p){
  var x = d3.scaleLog().domain([0.01, 100000]).range(p.xRange);
  var y = d3.scaleLog().domain([0.01, 1000000]).range(p.yRange);
  var g = svg.append("g").attr("class", "panel-" + p.name);

  // fold lines go first, the reference has the markers on top of them
  var line = d3.line().x(function(d){ return x(d[0]); }).y(function(d){ return y(d[1]); });
  foldLines.forEach(function(l){
    g.append("path").attr("d", line(l)).attr("fill", "none").attr("stroke", "#222").attr("stroke-width", 0.9);
  });

  var columnDots = [];
  p.columns.forEach(function(c){
    c[1].forEach(function(v){ columnDots.push([c[0], v]); });
  });
  dots(g, columnDots, x, y, 2, "#eef3fc", "#5f7cc8");
  dots(g, p.black, x, y, 2.6, "#000");

  g.append("path").attr("d", bandPath(p.greyTop, p.greyBottom, x, y)).attr("fill", "#b9bfba");
  g.append("path").attr("d", bandPath(p.bandTop, p.bandBottom, x, y)).attr("fill", "url(#lattice-" + p.name + ")");
  if(p.coreTop){
    // the middle of the BHI cloud is so packed it reads as a solid darker blue
    g.append("path").attr("d", bandPath(p.coreTop, p.coreBottom, x, y))
      .attr("fill", "#3660aa").attr("opacity", 0.8).attr("filter", "url(#soft)");
  }

  dots(g, p.grey, x, y, 2.4, "#b9bcb9");
  dots(g, p.open, x, y, 2, "#fff", "#5f7cc8");
  dots(g, p.over, x, y, 1.8, "#000");

  var fmt = function(d){ return d === hiddenTick ? "" : String(d); };
  var xAxis = g.append("g").attr("transform", "translate(0," + y(1) + ")")
    .call(d3.axisBottom(x).tickValues(xTicks).tickFormat(fmt).tickSize(3).tickSizeOuter(0).tickPadding(6));
  var yAxis = g.append("g").attr("transform", "translate(" + x(1) + ",0)")
    .call(d3.axisLeft(y).tickValues(yTicks).tickFormat(fmt).tickSize(3).tickSizeOuter(0).tickPadding(6));
  [xAxis, yAxis].forEach(function(a){
    a.select(".domain").attr("stroke", "#000").attr("stroke-width", 1.8);
    a.selectAll(".tick line").attr("stroke", "#000").attr("stroke-width", 1.2);
    a.selectAll(".tick text").attr("class", "tick-label").attr("fill", null);
  });

  g.append("text").attr("class", "big").attr("x", p.titleX).attr("y", p.titleY)
    .attr("font-size", 45).text(p.name);
});

svg.append("text").attr("class", "big").attr("x", 79).attr("y", 1231)
  .attr("font-size", 45.8).text("Transcripts per million in liquid");
svg.append("text").attr("class", "big")
  .attr("transform", "translate(35,855) rotate(-90)")
  .attr("font-size", 45.8).text("Transcripts per million on plates");
</script>
</body>
</html>
